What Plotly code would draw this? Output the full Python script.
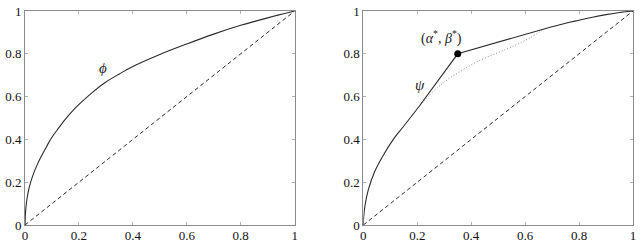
import plotly.graph_objects as go
from plotly.subplots import make_subplots

# ---- data ----
tick_vals = [0, 0.2, 0.4, 0.6, 0.8, 1]
tick_text = ["0", "0.2", "0.4", "0.6", "0.8", "1"]

diag_x = [0, 1]
diag_y = [0, 1]

phi_x = [0, 0.002, 0.006, 0.012, 0.021, 0.033, 0.045, 0.06, 0.075, 0.088, 0.1, 0.12, 0.15, 0.18, 0.21,
         0.25, 0.3, 0.35, 0.4, 0.5, 0.6, 0.7, 0.8, 0.9, 1.0]
phi_y = [0, 0.06, 0.11, 0.155, 0.2, 0.245, 0.281, 0.32, 0.355, 0.385, 0.41, 0.445, 0.495, 0.538, 0.575,
         0.62, 0.668, 0.706, 0.741, 0.797, 0.846, 0.892, 0.933, 0.968, 1.0]

psi_low_x = [0, 0.001, 0.006, 0.018, 0.043, 0.074, 0.111, 0.148, 0.203]
psi_low_y = [0, 0.035, 0.09, 0.163, 0.252, 0.326, 0.40, 0.459, 0.548]

psi_dot_x = [0.203, 0.25, 0.30, 0.36, 0.42, 0.50, 0.56, 0.62, 0.67]
psi_dot_y = [0.548, 0.612, 0.668, 0.718, 0.762, 0.806, 0.838, 0.876, 0.916]

hull_x = [0.203, 0.35, 0.67]
hull_y = [0.548, 0.80, 0.916]

psi_up_x = [0.67, 0.75, 0.80, 0.85, 0.90, 0.95, 1.0]
psi_up_y = [0.916, 0.943, 0.957, 0.971, 0.983, 0.993, 1.0]

opt_x = [0.35]
opt_y = [0.80]

FONT = "Liberation Serif, DejaVu Serif, serif"
LINE = "#2a2a2a"
FRAME = "#8c8c8c"

fig = make_subplots(rows=1, cols=2, horizontal_spacing=0.1130)

for c in (1, 2):
    fig.add_trace(go.Scatter(x=diag_x, y=diag_y, mode="lines",
                             line=dict(color=LINE, width=1, dash="4px,3px")), row=1, col=c)

smooth = dict(shape="spline", smoothing=1.0)
fig.add_trace(go.Scatter(x=phi_x, y=phi_y, mode="lines", line=dict(color=LINE, width=1.1, **smooth)), row=1, col=1)

fig.add_trace(go.Scatter(x=psi_dot_x, y=psi_dot_y, mode="lines", line=dict(color="#8a8a8a", width=1, dash="1px,2px", **smooth)), row=1, col=2)
fig.add_trace(go.Scatter(x=psi_low_x, y=psi_low_y, mode="lines", line=dict(color=LINE, width=1.1, **smooth)), row=1, col=2)
fig.add_trace(go.Scatter(x=hull_x, y=hull_y, mode="lines", line=dict(color=LINE, width=1.1)), row=1, col=2)
fig.add_trace(go.Scatter(x=psi_up_x, y=psi_up_y, mode="lines", line=dict(color=LINE, width=1.1, **smooth)), row=1, col=2)
fig.add_trace(go.Scatter(x=opt_x, y=opt_y, mode="markers", marker=dict(color="#000000", size=7)), row=1, col=2)

fig.add_annotation(x=0.288, y=0.733, text="<i>ϕ</i>", showarrow=False, xref="x", yref="y",
                   font=dict(family=FONT, size=15, color="#222"))
fig.add_annotation(x=0.209, y=0.652, text="<i>ψ</i>", showarrow=False, xref="x2", yref="y2",
                   font=dict(family=FONT, size=15, color="#222"))
fig.add_annotation(x=0.289, y=0.874, text="(<i>α</i><sup>*</sup>, <i>β</i><sup>*</sup>)", showarrow=False, xref="x2", yref="y2",
                   font=dict(family=FONT, size=14, color="#222"))

axis_common = dict(range=[0, 1], tickvals=tick_vals, ticktext=tick_text, showgrid=False, zeroline=False,
                   showline=True, linecolor=FRAME, linewidth=1, mirror="allticks",
                   ticks="inside", ticklen=3, tickcolor="#b0b0b0", tickwidth=1,
                   ticklabeloverflow="allow",
                   tickfont=dict(family=FONT, size=13, color="#111"))

fig.update_xaxes(**axis_common, ticklabelstandoff=-2)
fig.update_yaxes(**axis_common)
fig.update_xaxes(domain=[0, 0.4435], row=1, col=1)
fig.update_xaxes(domain=[0.5565, 1.0], row=1, col=2)

fig.update_layout(width=640, height=247, showlegend=False,
                  margin=dict(l=25, r=4, t=5, b=17),
                  paper_bgcolor="white", plot_bgcolor="white")

fig.write_html("out.html", config={"displayModeBar": False},
               post_script="document.body.style.margin='0';document.body.style.overflow='hidden';")
